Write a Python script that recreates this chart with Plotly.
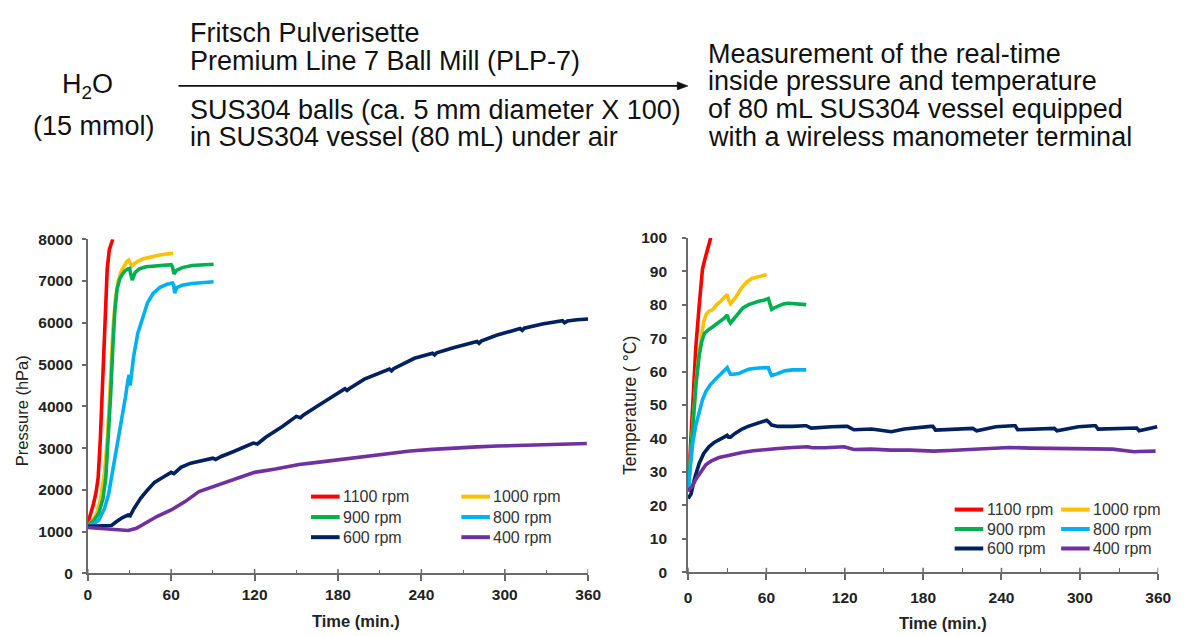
import plotly.graph_objects as go

W, H = 1185, 636

# ---------------- data ----------------
rpm_labels = ["1100 rpm", "1000 rpm", "900 rpm", "800 rpm", "600 rpm", "400 rpm"]
colors = ["#FF0000", "#FFC000", "#00B050", "#00B0F0", "#002060", "#7030A0"]

x_ticks = [0, 60, 120, 180, 240, 300, 360]
p_ticks = [0, 1000, 2000, 3000, 4000, 5000, 6000, 7000, 8000]
t_ticks = [0, 10, 20, 30, 40, 50, 60, 70, 80, 90, 100]

# Pressure (hPa) vs time (min)
p_t_1100 = [0, 2, 4, 6, 7.5, 9, 10, 11, 12, 13, 14, 15.5, 17, 18]
p_1100 = [1200, 1400, 1650, 1950, 2300, 3200, 4000, 4900, 5900, 6700, 7300, 7750, 7950, 8000]

p_t_1000 = [0, 3, 6, 9, 12, 14, 16, 18, 20, 22, 24, 26, 28, 29.5, 30.5, 31.5, 33, 36, 40, 45, 50, 55, 60, 61.5]
p_1000 = [1150, 1250, 1400, 1750, 2400, 3200, 4400, 5800, 6600, 7000, 7230, 7370, 7460, 7500, 7420, 7350, 7400, 7470, 7530, 7580, 7610, 7640, 7660, 7660]

p_t_900 = [0, 4, 8, 11, 13, 15, 16.5, 18, 19.5, 21, 23, 25, 27, 29, 30, 31, 32, 34, 37, 42, 50, 60, 61, 62, 64, 68, 75, 90.5]
p_900 = [1150, 1250, 1450, 1800, 2300, 3300, 4300, 5400, 6300, 6800, 7050, 7170, 7250, 7290, 7300, 7150, 7020, 7200, 7290, 7340, 7370, 7390, 7330, 7170, 7260, 7320, 7370, 7400]

p_t_800 = [0, 4, 8, 12, 15, 18, 21, 24, 27, 29, 29.8, 30.5, 33, 36, 40, 43, 47, 52, 57, 61, 61.8, 62.5, 64, 68, 75, 90.5]
p_800 = [1150, 1180, 1280, 1550, 1900, 2450, 3100, 3650, 4200, 4650, 4750, 4500, 5200, 5750, 6200, 6480, 6700, 6850, 6920, 6950, 6900, 6710, 6840, 6900, 6940, 6980]

p_t_600 = [0, 10, 17, 21, 25, 29, 30.5, 33, 38, 43, 48, 55, 60, 62, 67, 74, 83, 90, 92, 96, 105, 119, 122, 124, 128, 140, 150, 153, 155, 165, 175, 185, 186.5, 188, 199, 210, 217, 218.5, 220, 235, 248, 249.5, 251, 263, 280, 281.5, 283, 294, 311, 312.5, 314, 327, 341.5, 343, 345, 352, 360]
p_600 = [1130, 1140, 1150, 1250, 1340, 1400, 1380, 1540, 1800, 2000, 2180, 2320, 2420, 2390, 2540, 2640, 2710, 2760, 2730, 2800, 2920, 3120, 3100, 3150, 3260, 3520, 3760, 3730, 3790, 4000, 4220, 4420, 4380, 4420, 4650, 4800, 4890, 4850, 4900, 5150, 5270, 5230, 5280, 5400, 5550, 5510, 5560, 5700, 5860, 5820, 5870, 5970, 6050, 6000, 6040, 6070, 6090]

p_t_400 = [0, 10, 20, 29, 35, 40, 50, 60, 70, 80, 90, 100, 110, 120, 135, 152, 165, 186, 200, 217, 232, 248, 265, 280, 295, 311, 326, 342, 359]
p_400 = [1100, 1080, 1050, 1030, 1080, 1180, 1370, 1520, 1720, 1960, 2080, 2200, 2320, 2420, 2500, 2610, 2660, 2740, 2800, 2880, 2930, 2970, 3010, 3030, 3050, 3065, 3080, 3090, 3110]

# Temperature (deg C) vs time (min)
T_t_1100 = [0, 1.5, 3.5, 6, 8.6, 11, 12.5, 13.6, 15, 16, 17.4]
T_1100 = [24, 35, 50, 67.5, 80, 90.5, 93, 94.6, 96, 98.4, 100]

T_t_1000 = [0, 1.5, 3.5, 6, 8, 10, 12, 14, 16, 19, 22, 25, 28, 30, 31, 32.5, 34, 37, 41, 45, 49, 53, 57, 60.2]
T_1000 = [24, 32, 44, 56, 64, 70, 75, 77.2, 78, 78.5, 80, 81, 82, 83, 81.5, 80.3, 81, 82.5, 85, 86.8, 87.8, 88.3, 88.7, 89]

T_t_900 = [0, 1.5, 3.5, 6, 8.6, 10.5, 12.4, 15, 18.7, 23.7, 28, 30, 31, 32.5, 35, 38.8, 42, 46.4, 50, 54, 58, 61.5, 62.5, 64, 66, 69, 73, 76.6, 82, 90.5]
T_900 = [24, 32, 43, 56, 65, 69, 71.3, 72.3, 73.3, 74.7, 76, 76.9, 75.5, 74.5, 75.8, 77.6, 79, 80, 80.6, 81, 81.3, 81.8, 80.5, 78.6, 79, 79.6, 80.2, 80.4, 80.3, 80]

T_t_800 = [0, 1.5, 3.5, 6, 8.6, 11, 13.6, 17, 21.2, 24, 27.5, 30, 31, 32.5, 35, 38.8, 42, 46.4, 52, 58, 61.5, 62.5, 64, 68, 74, 80, 90.5]
T_800 = [24, 31, 38.4, 44, 48, 51.5, 54, 56, 57.8, 59, 60.5, 61.2, 60.3, 59.2, 59.2, 59.4, 60, 60.7, 61, 61.1, 61.2, 60, 58.8, 59.3, 60.2, 60.5, 60.5]

T_t_600 = [0, 2.3, 5, 8.6, 12, 16, 20, 23.7, 27, 30, 31, 32.5, 36, 41.3, 46, 51.4, 56, 60.2, 62, 64, 69, 74, 80, 89, 90.5, 94.3, 100, 110, 119.5, 122, 127, 140.5, 155.6, 165.7, 185.8, 187.5, 189.5, 215.9, 218, 221, 235.7, 248.6, 250.5, 252.4, 278.8, 280.5, 282.5, 298.9, 310.2, 312, 314, 341.6, 343.5, 345.4, 359.2]
T_600 = [22, 23.4, 28, 32.6, 35.5, 37.5, 38.8, 39.6, 40.3, 40.9, 40.4, 40.4, 41.5, 42.8, 43.6, 44.2, 44.8, 45.4, 44.8, 44, 43.6, 43.5, 43.6, 43.8, 43.8, 43.1, 43.3, 43.5, 43.6, 43.6, 42.6, 42.8, 42.0, 42.8, 43.6, 43.6, 42.5, 43.0, 43.0, 42.3, 43.5, 43.8, 43.8, 42.6, 43.0, 43.0, 42.3, 43.5, 43.8, 43.8, 42.8, 43.1, 43.1, 42.3, 43.5]

T_t_400 = [0, 3, 6, 10, 13.6, 18, 23.7, 30, 35, 41.3, 50, 59, 69, 80, 91.8, 95, 105, 119.5, 127, 140, 155.6, 170, 188, 200, 216, 230, 246, 262, 278.8, 295, 311.4, 325, 341.6, 345, 358]
T_400 = [24.4, 25.5, 27.8, 30, 32.1, 33.3, 34.3, 34.8, 35.3, 35.8, 36.3, 36.7, 37, 37.3, 37.5, 37.2, 37.2, 37.5, 36.7, 36.8, 36.5, 36.5, 36.2, 36.4, 36.7, 36.9, 37.3, 37.1, 37, 37, 36.8, 36.8, 36, 36.1, 36.2]

pressure_series = [(p_t_1100, p_1100), (p_t_1000, p_1000), (p_t_900, p_900),
                   (p_t_800, p_800), (p_t_600, p_600), (p_t_400, p_400)]
temp_series = [(T_t_1100, T_1100), (T_t_1000, T_1000), (T_t_900, T_900),
               (T_t_800, T_800), (T_t_600, T_600), (T_t_400, T_400)]

scheme_left = ["H<sub>2</sub>O", "(15 mmol)"]
scheme_above = ["Fritsch Pulverisette", "Premium Line 7 Ball Mill (PLP-7)"]
scheme_below = ["SUS304 balls (ca. 5 mm diameter X 100)", "in SUS304 vessel (80 mL) under air"]
scheme_right = ["Measurement of the real-time", "inside pressure and temperature",
                "of 80 mL SUS304 vessel equipped", "with a wireless manometer terminal"]

# ---------------- helpers (pixel -> paper) ----------------
def px(x):
    return x / W

def py(y):
    return 1 - y / H

LINE_W = 3.6
AX_COL = "#6a6a6a"
TXT = "#222222"
FONT = "Liberation Sans"
SCHEME_SIZE = 27

fig = go.Figure()

for (t, v), name, col in zip(pressure_series, rpm_labels, colors):
    fig.add_trace(go.Scatter(x=t, y=v, mode="lines", name=name,
                             line=dict(color=col, width=LINE_W),
                             xaxis="x", yaxis="y", showlegend=False))
for (t, v), name, col in zip(temp_series, rpm_labels, colors):
    fig.add_trace(go.Scatter(x=t, y=v, mode="lines", name=name,
                             line=dict(color=col, width=LINE_W),
                             xaxis="x2", yaxis="y2", showlegend=False))

tickfont = dict(family=FONT, size=15.5, color=TXT, weight="bold")

def xaxis_def(domain, anchor, standoff):
    return dict(domain=domain, anchor=anchor, range=[0, 360], tickvals=x_ticks,
                showline=True, linecolor=AX_COL, linewidth=1.8,
                ticks="outside", ticklen=6, tickwidth=1.5, tickcolor=AX_COL,
                minor=dict(tickvals=[30, 90, 150, 210, 270, 330], ticks="inside",
                           ticklen=4, tickwidth=1.2, tickcolor=AX_COL),
                showgrid=False, zeroline=False, tickfont=tickfont,
                ticklabelstandoff=standoff, fixedrange=True)

def yaxis_def(domain, anchor, rng, vals, standoff):
    return dict(domain=domain, anchor=anchor, range=rng, tickvals=vals,
                showline=True, linecolor=AX_COL, linewidth=1.8,
                ticks="outside", ticklen=4, tickwidth=1.5, tickcolor=AX_COL,
                showgrid=False, zeroline=False, tickfont=tickfont,
                ticklabelstandoff=standoff, fixedrange=True)

L_X = [px(85), px(592.7)]
L_Y = [py(580), py(236.5)]
R_X = [px(694), px(1171)]
R_Y = [py(578.7), py(235)]

annotations = []
shapes = []

def text(x, y, s, size, weight="normal", xanchor="left", color="#111111", angle=0):
    annotations.append(dict(x=px(x), y=py(y), xref="paper", yref="paper", text=s,
                            showarrow=False, xanchor=xanchor, yanchor="middle",
                            textangle=angle,
                            font=dict(family=FONT, size=size, color=color, weight=weight)))

# reaction scheme
text(85, 79, scheme_left[0], SCHEME_SIZE, xanchor="center")
text(91, 120, scheme_left[1], SCHEME_SIZE, xanchor="center")
text(187, 25, scheme_above[0], SCHEME_SIZE)
text(187, 53.5, scheme_above[1], SCHEME_SIZE)
text(187, 104, scheme_below[0], SCHEME_SIZE)
text(187, 131.5, scheme_below[1], SCHEME_SIZE)
for i, s in enumerate(scheme_right):
    text(712, 46 + i * 28.4, s, SCHEME_SIZE)

# reaction arrow (shaft + filled head)
shapes.append(dict(type="line", xref="paper", yref="paper",
                   x0=px(177), x1=px(685), y0=py(79), y1=py(79),
                   line=dict(color="#111111", width=1.6)))
shapes.append(dict(type="path", xref="paper", yref="paper",
                   path=f"M {px(683)},{py(74.8)} L {px(694)},{py(79)} L {px(683)},{py(83.2)} Z",
                   fillcolor="#111111", line=dict(color="#111111", width=0.5)))

# inner halves of the major x ticks (ticks cross the axis line)
for xref, y_axis_px in (("x", 580), ("x2", 578.7)):
    for tv in x_ticks:
        shapes.append(dict(type="line", xref=xref, yref="paper", x0=tv, x1=tv,
                           y0=py(y_axis_px), y1=py(y_axis_px - 4.5),
                           line=dict(color=AX_COL, width=1.5)))

# axis titles
text(18.5, 413, "Pressure (hPa)", 16.5, color=TXT, xanchor="center", angle=-90)
text(635, 407, "Temperature ( °C)", 17.5, color=TXT, xanchor="center", angle=-90)
text(357.5, 629, "Time (min.)", 16.5, weight="bold", color=TXT, xanchor="center")
text(952.5, 630.5, "Time (min.)", 16.5, weight="bold", color=TXT, xanchor="center")

# legends
def legend(cols_x, rows_y, seg=29):
    for i, (name, col) in enumerate(zip(rpm_labels, colors)):
        cx = cols_x[i % 2]
        ry = rows_y[i // 2]
        shapes.append(dict(type="line", xref="paper", yref="paper",
                           x0=px(cx), x1=px(cx + seg), y0=py(ry), y1=py(ry),
                           line=dict(color=col, width=4)))
        text(cx + seg + 1.5, ry, name, 16, color="#333333")

legend([311.5, 464], [501, 522, 542.7])
legend([964.5, 1072.5], [514.3, 534.3, 554.3])

fig.update_layout(
    width=W, height=H, margin=dict(l=0, r=0, t=0, b=0),
    paper_bgcolor="white", plot_bgcolor="white",
    showlegend=False,
    xaxis=xaxis_def(L_X, "y", 0),
    yaxis=yaxis_def(L_Y, "x", [0, 8000], p_ticks, 6),
    xaxis2=xaxis_def(R_X, "y2", 4),
    yaxis2=yaxis_def(R_Y, "x2", [0, 100], t_ticks, 12),
    annotations=annotations, shapes=shapes,
)

fig.write_html("out.html")
